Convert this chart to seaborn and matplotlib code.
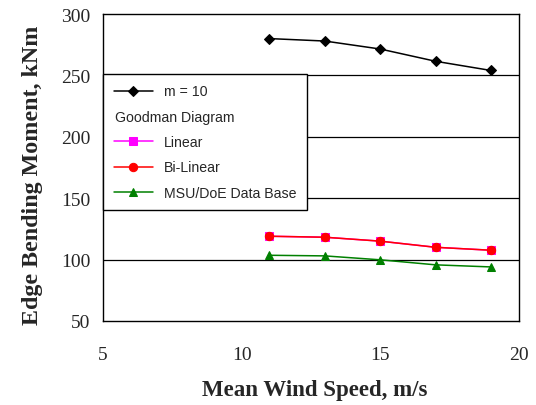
import numpy as np
import pandas as pd
import seaborn as sns
import matplotlib.pyplot as plt

# values
wind_speed = [11, 13, 15, 17, 19]
m10 = [280, 278, 271.5, 261.5, 254]
linear = [119, 118.2, 115, 110, 107.6]
bilinear = [119, 118.2, 115, 110, 107.6]
msu_doe = [103.5, 103, 99.8, 95.7, 94]

series_names = ["m = 10", "Linear", "Bi-Linear", "MSU/DoE Data Base"]
series_vals = [m10, linear, bilinear, msu_doe]
colors = ["black", "#ff00ff", "red", "green"]
markers = ["D", "s", "o", "^"]
msizes = [5.5, 5.8, 6, 6]

sns.set_style("white")
plt.rcParams['font.family'] = ['Liberation Serif', 'DejaVu Serif']

fig = plt.figure(figsize=(5.36, 4.06), dpi=100)
ax = fig.add_axes([0.192, 0.207, 0.776, 0.756])

handles = []
for name, vals, c, mk, ms in zip(series_names, series_vals, colors, markers, msizes):
    df = pd.DataFrame({"speed": wind_speed, "moment": vals})
    sns.lineplot(data=df, x="speed", y="moment", color=c, marker=mk,
                 markersize=ms, markeredgecolor=c, linewidth=1.1, ax=ax)
    handles.append(ax.lines[-1])

ax.set_xlim(5, 20)
ax.set_ylim(50, 300)
ax.set_xticks([5, 10, 15, 20])
ax.set_yticks([50, 100, 150, 200, 250, 300])
for yv in [100, 150, 200, 250]:
    ax.axhline(yv, color="black", linewidth=0.9, zorder=0)

for s in ax.spines.values():
    s.set_color("black")
    s.set_linewidth(1.0)

ax.tick_params(axis="x", direction="in", length=4, width=1, color="black",
               pad=18, labelsize=14)
ax.tick_params(axis="y", length=0, pad=9, labelsize=14)

ax.set_xlabel("Mean Wind Speed, m/s", fontsize=16.5, fontweight="bold")
ax.set_ylabel("Edge Bending Moment, kNm", fontsize=17.3, fontweight="bold")
ax.xaxis.set_label_coords(0.51, -0.189)
ax.yaxis.set_label_coords(-0.144, 0.478)

# legend with a header line "Goodman Diagram"
blank, = ax.plot([], [], color="none")
leg_handles = [handles[0], blank, handles[1], handles[2], handles[3]]
leg_labels = ["m = 10", "Goodman Diagram", "Linear", "Bi-Linear", "MSU/DoE Data Base"]
leg = ax.legend(leg_handles, leg_labels, loc="upper left",
                bbox_to_anchor=(0.0, 0.805), prop={"family": "Liberation Sans", "size": 10.2},
                frameon=True, fancybox=False, framealpha=1, edgecolor="black",
                handlelength=2.8, handletextpad=0.78, labelspacing=0.8,
                borderpad=0.75, borderaxespad=0)
leg.get_frame().set_linewidth(1.0)
rows = leg._legend_handle_box.get_children()[0].get_children()
rows[1].get_children()[0].width = 0
rows[1].sep = 1

fig.savefig("out.png", dpi=100)
